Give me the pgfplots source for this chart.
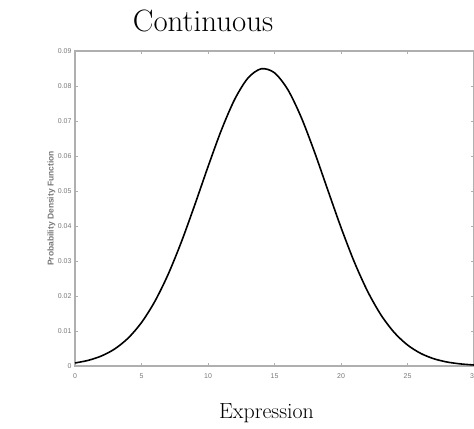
\documentclass[border=0pt]{standalone}
\usepackage{fontspec}
\usepackage{pgfplots}
\pgfplotsset{compat=1.18}
\newfontfamily\tickfont{Liberation Sans}
\definecolor{axgray}{RGB}{175,175,175}
\definecolor{lblgray}{RGB}{120,120,120}
\begin{document}
\begin{tikzpicture}[x=1bp,y=1bp]
\path[use as bounding box] (0,0) rectangle (474,428);
\node[anchor=base, font=\fontsize{31}{36}\selectfont] at (203,396) {Continuous};
\begin{axis}[
  at={(75bp,62bp)}, anchor=south west,
  scale only axis, width=399bp, height=315bp,
  xmin=0, xmax=30, ymin=0, ymax=0.09,
  xtick={0,5,...,30}, ytick={0,0.01,...,0.09},
  scaled y ticks=false,
  yticklabels={0,0.01,0.02,0.03,0.04,0.05,0.06,0.07,0.08,0.09},
  axis line style={axgray, line width=1.2bp},
  tick style={axgray, line width=0.8bp},
  major tick length=3bp,
  tick align=inside,
  ticklabel style={font=\tickfont\fontsize{7}{8}\selectfont, text=lblgray},
  /pgf/number format/assume math mode=true,
  xticklabel style={yshift=-4bp},
  ylabel={\tickfont\bfseries Probability Density Function},
  ylabel style={font=\fontsize{8.5}{10}\selectfont, text=lblgray, at={(axis description cs:0,0.5)}, anchor=south, yshift=16bp},
  xlabel={Expression},
  xlabel style={font=\fontsize{22}{26}\selectfont, at={(axis description cs:0.48,0)}, anchor=base, yshift=-52bp},
  clip=false,
]
\addplot[black, line width=1.6bp, smooth] coordinates {
(0,0.00087) (1,0.00162) (2,0.00289) (3,0.00491) (4,0.00799) (5,0.01242)
(6,0.01844) (7,0.02616) (8,0.03548) (9,0.04598) (10,0.05693) (11,0.06735)
(12,0.07614) (13,0.08226) (14,0.08492) (15,0.08377) (16,0.07897)
(17,0.07113) (18,0.06122) (19,0.05035) (20,0.03958) (21,0.02972) (22,0.02133)
(23,0.01462) (24,0.00958) (25,0.00600) (26,0.00359) (27,0.00205) (28,0.00112)
(29,0.00059) (30,0.00029)
};
\end{axis}
\end{tikzpicture}
\end{document}
